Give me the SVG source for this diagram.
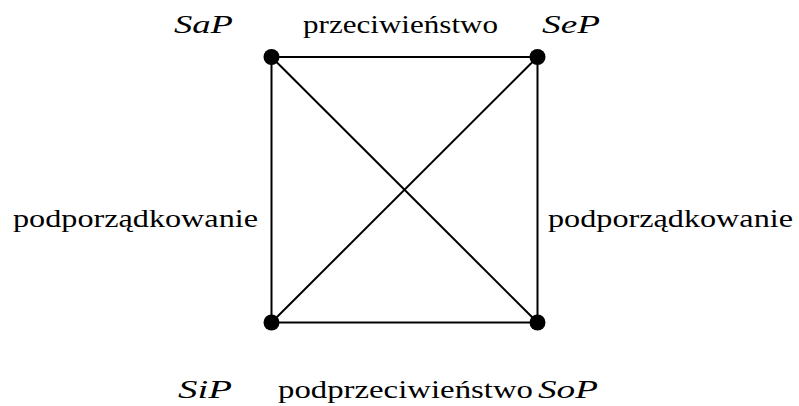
<svg xmlns="http://www.w3.org/2000/svg" width="799" height="406" viewBox="0 0 799 406">
<style>
.t{font-family:"Liberation Serif","Times New Roman",serif;font-size:25px;fill:#000}
.m{font-style:italic}
.e{stroke:#000;stroke-width:2;fill:none}
.d{fill:#000}
</style>
<rect width="799" height="406" fill="#fff"/>
<g id="connectors">
<line class="e" x1="271.5" y1="57" x2="537.5" y2="57"/>
<line class="e" x1="271.5" y1="322.5" x2="537.5" y2="322.5"/>
<line class="e" x1="271.5" y1="57" x2="271.5" y2="322.5"/>
<line class="e" x1="537.5" y1="57" x2="537.5" y2="322.5"/>
<line class="e" x1="271.5" y1="57" x2="537.5" y2="322.5"/>
<line class="e" x1="537.5" y1="57" x2="271.5" y2="322.5"/>
<text class="t" x="303" y="33" textLength="195" lengthAdjust="spacingAndGlyphs">przeciwieństwo</text>
<text class="t" x="278" y="398" textLength="255" lengthAdjust="spacingAndGlyphs">podprzeciwieństwo</text>
<text class="t" x="13" y="227" textLength="245" lengthAdjust="spacingAndGlyphs">podporządkowanie</text>
<text class="t" x="548" y="227" textLength="245" lengthAdjust="spacingAndGlyphs">podporządkowanie</text>
</g>
<g id="SaP"><circle class="d" cx="271.5" cy="57" r="8"/><text class="t m" x="174" y="33" textLength="59" lengthAdjust="spacingAndGlyphs">SaP</text></g>
<g id="SeP"><circle class="d" cx="537.5" cy="57" r="8"/><text class="t m" x="542" y="33" textLength="58" lengthAdjust="spacingAndGlyphs">SeP</text></g>
<g id="SiP"><circle class="d" cx="271.5" cy="322.5" r="8"/><text class="t m" x="178" y="398" textLength="54" lengthAdjust="spacingAndGlyphs">SiP</text></g>
<g id="SoP"><circle class="d" cx="537.5" cy="322.5" r="8"/><text class="t m" x="538" y="398" textLength="60" lengthAdjust="spacingAndGlyphs">SoP</text></g>
</svg>
